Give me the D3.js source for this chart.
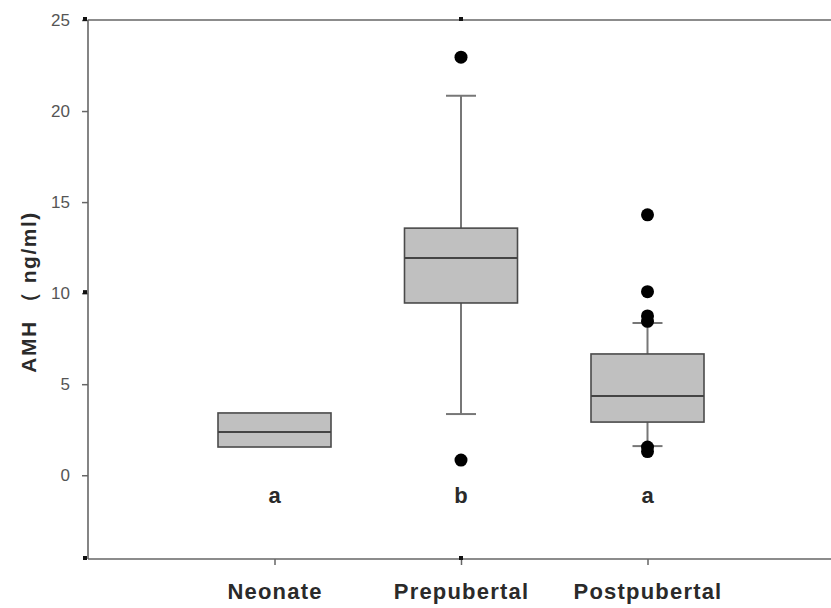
<!DOCTYPE html>
<html>
<head>
<meta charset="utf-8">
<script src="https://cdn.jsdelivr.net/npm/d3@7"></script>
<style>
  body { margin: 0; background: #fff; }
  svg { display: block; font-family: "Liberation Sans", Arial, sans-serif; }
</style>
</head>
<body>
<script>
// groups and box statistics (ng/ml)
var groups = ['Neonate', 'Prepubertal', 'Postpubertal'];
var letters = ['a', 'b', 'a'];
var q1 = [1.55, 9.46, 2.92];
var medians = [2.37, 11.93, 4.35];
var q3 = [3.42, 13.57, 6.66];
var whiskLow = [null, 3.36, 1.60];
var whiskHigh = [null, 20.84, 8.36];
var outliers = [
    [],
    [22.96, 0.83],
    [14.3, 10.08, 8.75, 8.45, 1.55, 1.3]
];
var yTicks = [0, 5, 10, 15, 20, 25];

var width = 831,
    height = 608;

var svg = d3.select('body').append('svg')
    .attr('width', width)
    .attr('height', height);

var x = d3.scalePoint()
    .domain(groups)
    .range([88, 834])
    .padding(1);

var y = d3.scaleLinear()
    .domain([-4.6, 25])
    .range([559, 20]);

var boxW = 113,
    capW = 30;

var axisColor = '#666';

// frame: left axis, top and bottom lines
svg.append('line')
    .attr('x1', 88).attr('x2', 88)
    .attr('y1', y(25)).attr('y2', y(-4.6))
    .style('stroke', axisColor).style('stroke-width', 1.6);
svg.append('line')
    .attr('x1', 88).attr('x2', width)
    .attr('y1', y(25)).attr('y2', y(25))
    .style('stroke', axisColor).style('stroke-width', 1.6);
svg.append('line')
    .attr('x1', 88).attr('x2', width)
    .attr('y1', y(-4.6)).attr('y2', y(-4.6))
    .style('stroke', axisColor).style('stroke-width', 1.6);

// y axis ticks
var yAxis = d3.axisLeft(y)
    .tickValues(yTicks)
    .tickSize(6)
    .tickPadding(12)
    .tickFormat(d3.format('d'));

var gy = svg.append('g')
    .attr('transform', 'translate(88,0)')
    .call(yAxis);
gy.select('.domain').remove();
gy.selectAll('.tick line').style('stroke', axisColor).style('stroke-width', 1.5);
gy.selectAll('.tick text')
    .style('font-size', '17px')
    .style('fill', '#555');

// x axis ticks
var xAxis = d3.axisBottom(x)
    .tickSize(6)
    .tickPadding(21);

var gx = svg.append('g')
    .attr('transform', 'translate(0,' + y(-4.6) + ')')
    .call(xAxis);
gx.select('.domain').remove();
gx.selectAll('.tick line').style('stroke', axisColor).style('stroke-width', 1.5);
gx.selectAll('.tick text')
    .style('font-size', '22px')
    .style('font-weight', 'bold')
    .style('letter-spacing', '1.2px')
    .style('fill', '#2a2a2a')
    .attr('dy', '0.6em');

// little dark marks on the frame
var marks = [[88, 25], [88, 10], [88, -4.6], [x('Prepubertal'), 25], [x('Prepubertal'), -4.6]];
svg.selectAll('.mark')
    .data(marks)
    .enter().append('rect')
    .attr('class', 'mark')
    .attr('x', function(d) { return (d[0] === 88 ? d[0] - 5 : d[0] - 2); })
    .attr('y', function(d) { return y(d[1]) - 3; })
    .attr('width', 4)
    .attr('height', 4)
    .style('fill', '#111');

// y axis title
svg.append('text')
    .attr('transform', 'translate(36,' + 292 + ') rotate(-90)')
    .attr('text-anchor', 'middle')
    .style('font-size', '21px')
    .style('font-weight', 'bold')
    .style('letter-spacing', '1.5px')
    .style('fill', '#2a2a2a')
    .text('AMH （ ng/ml)');

// whiskers
groups.forEach(function(g, i) {
    if (whiskLow[i] === null) return;
    var cx = x(g);
    var w = svg.append('g').attr('class', 'whisker');
    w.append('line')
        .attr('x1', cx).attr('x2', cx)
        .attr('y1', y(whiskHigh[i])).attr('y2', y(q3[i]));
    w.append('line')
        .attr('x1', cx).attr('x2', cx)
        .attr('y1', y(q1[i])).attr('y2', y(whiskLow[i]));
    w.append('line')
        .attr('x1', cx - capW / 2).attr('x2', cx + capW / 2)
        .attr('y1', y(whiskHigh[i])).attr('y2', y(whiskHigh[i]));
    w.append('line')
        .attr('x1', cx - capW / 2).attr('x2', cx + capW / 2)
        .attr('y1', y(whiskLow[i])).attr('y2', y(whiskLow[i]));
    w.selectAll('line').style('stroke', '#777').style('stroke-width', 2);
});

// boxes
svg.selectAll('.box')
    .data(groups)
    .enter().append('rect')
    .attr('class', 'box')
    .attr('x', function(d) { return x(d) - boxW / 2; })
    .attr('y', function(d, i) { return y(q3[i]); })
    .attr('width', boxW)
    .attr('height', function(d, i) { return y(q1[i]) - y(q3[i]); })
    .style('fill', '#c0c0c0')
    .style('stroke', '#4a4a4a')
    .style('stroke-width', 1.6);

svg.selectAll('.median')
    .data(groups)
    .enter().append('line')
    .attr('class', 'median')
    .attr('x1', function(d) { return x(d) - boxW / 2; })
    .attr('x2', function(d) { return x(d) + boxW / 2; })
    .attr('y1', function(d, i) { return y(medians[i]); })
    .attr('y2', function(d, i) { return y(medians[i]); })
    .style('stroke', '#444')
    .style('stroke-width', 2);

// outliers
var pts = [];
groups.forEach(function(g, i) {
    outliers[i].forEach(function(v) { pts.push({g: g, v: v}); });
});
svg.selectAll('.outlier')
    .data(pts)
    .enter().append('circle')
    .attr('class', 'outlier')
    .attr('cx', function(d) { return x(d.g); })
    .attr('cy', function(d) { return y(d.v); })
    .attr('r', 6.5)
    .style('fill', '#000');

// significance letters
svg.selectAll('.letter')
    .data(groups)
    .enter().append('text')
    .attr('class', 'letter')
    .attr('x', function(d) { return x(d); })
    .attr('y', y(-1.5))
    .attr('text-anchor', 'middle')
    .style('font-size', '22px')
    .style('font-weight', 'bold')
    .style('fill', '#2a2a2a')
    .text(function(d, i) { return letters[i]; });
</script>
</body>
</html>
